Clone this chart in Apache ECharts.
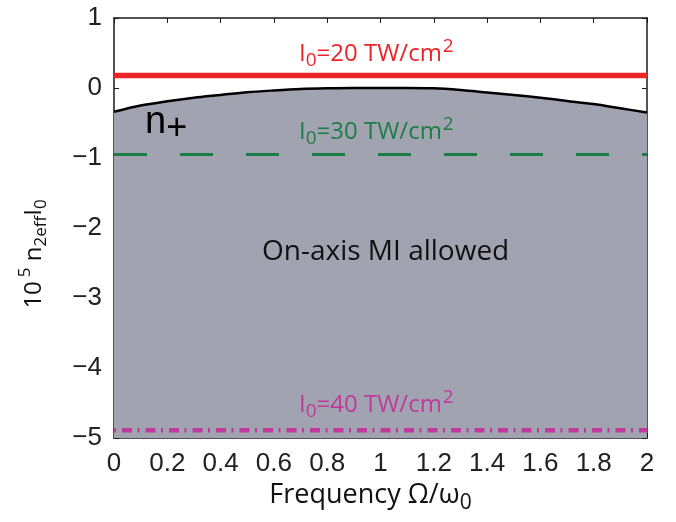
<!DOCTYPE html>
<html>
<head>
<meta charset="utf-8">
<script src="https://cdn.jsdelivr.net/npm/echarts@6/dist/echarts.min.js"></script>
<style>html,body{margin:0;padding:0;background:#fff;}#c{width:676px;height:522px;}</style>
</head>
<body>
<div id="c"></div>
<script>
// ---- data ----
const freq = [0, 0.1, 0.2, 0.3, 0.4, 0.5, 0.6, 0.7, 0.8, 0.9, 1.0, 1.1, 1.2, 1.3, 1.4, 1.5, 1.6, 1.7, 1.8, 1.9, 2.0];
const nPlus = [-0.34, -0.25, -0.19, -0.14, -0.10, -0.06, -0.035, -0.015, -0.005, 0, 0, 0, -0.005, -0.03, -0.065, -0.10, -0.14, -0.185, -0.23, -0.29, -0.35];
const lineX = [0, 2];
const level20 = 0.18;
const level30 = -0.95;
const level40 = -4.89;
const xTicks = ['0', '0.2', '0.4', '0.6', '0.8', '1', '1.2', '1.4', '1.6', '1.8', '2'];
const yTicks = ['\u22125', '\u22124', '\u22123', '\u22122', '\u22121', '0', '1'];

const RED = '#ec2428', GREEN = '#1b7e45', MAG = '#bf3a9c', GRAY = '#a2a3b0';
const SANS = '"Open Sans", sans-serif';
const TICKF = '"Liberation Sans", Arial, sans-serif';

const chart = echarts.init(document.getElementById('c'));

function intensityRich(color) {
  return {
    a: {fontFamily: SANS, fontSize: 24, fill: color, verticalAlign: 'middle'},
    s: {fontFamily: SANS, fontSize: 19, fill: color, verticalAlign: 'middle', padding: [13, 0, 0, 0]},
    p: {fontFamily: SANS, fontSize: 19, fill: color, verticalAlign: 'middle', padding: [0, 0, 15, 1]}
  };
}
function intensityText(val) {
  return '{a|I}{s|0}{a|=' + val + ' TW/cm}{p|2}';
}

const xAxisCommon = {
  type: 'value', min: 0, max: 2, interval: 0.2,
  axisLine: {show: true, onZero: false, lineStyle: {color: '#1a1a1a', width: 1.5}},
  axisTick: {show: true, inside: true, length: 5, lineStyle: {color: '#1a1a1a', width: 1}},
  splitLine: {show: false}
};
const yAxisCommon = {
  type: 'value', min: -5, max: 1, interval: 1,
  axisLine: {show: true, onZero: false, lineStyle: {color: '#1a1a1a', width: 1.5}},
  axisTick: {show: true, inside: true, length: 5, lineStyle: {color: '#1a1a1a', width: 1}},
  splitLine: {show: false}
};

chart.setOption({
  animation: false,
  backgroundColor: '#fff',
  grid: {left: 114, right: 29, top: 18, bottom: 84, containLabel: false},
  xAxis: [
    Object.assign({}, xAxisCommon, {
      position: 'bottom',
      axisLabel: {
        margin: 13, fontFamily: TICKF, fontSize: 26, color: '#222',
        formatter: function (v) { return xTicks[Math.round(v / 0.2)]; }
      },
      name: '{a|Frequency \u03A9/\u03C9}{s|0}',
      nameLocation: 'middle', nameGap: 39,
      nameTextStyle: {
        padding: [0, 20, 0, 0],
        rich: {
          a: {fontFamily: SANS, fontSize: 27, color: '#111', verticalAlign: 'middle'},
          s: {fontFamily: SANS, fontSize: 21, color: '#111', verticalAlign: 'middle', padding: [15, 0, 0, 0]}
        }
      }
    }),
    Object.assign({}, xAxisCommon, {position: 'top', axisLabel: {show: false}})
  ],
  yAxis: [
    Object.assign({}, yAxisCommon, {
      position: 'left',
      axisLabel: {
        margin: 12, fontFamily: TICKF, fontSize: 26, color: '#222',
        formatter: function (v) { return yTicks[Math.round(v + 5)]; }
      }
    }),
    Object.assign({}, yAxisCommon, {position: 'right', axisLabel: {show: false}})
  ],
  series: [
    {
      type: 'line', xAxisIndex: 0, yAxisIndex: 0, symbol: 'none', smooth: 0.3,
      data: freq.map((f, i) => [f, nPlus[i]]),
      lineStyle: {color: '#000', width: 2.5},
      areaStyle: {color: GRAY, opacity: 1, origin: 'start'},
      z: 1
    },
    {
      type: 'line', symbol: 'none', data: lineX.map(x => [x, level20]),
      lineStyle: {color: RED, width: 5.5}, z: 3
    },
    {
      type: 'line', symbol: 'none', data: lineX.map(x => [x, level30]),
      lineStyle: {color: GREEN, width: 3, type: [33, 33]}, z: 3
    },
    {
      type: 'line', symbol: 'none', data: lineX.map(x => [x, level40]),
      lineStyle: {color: MAG, width: 4.5, type: [2, 6, 10, 5.5], dashOffset: 0}, z: 3
    }
  ],
  graphic: [
    {type: 'text', left: 299, top: 37, z: 10, style: {text: intensityText(20), rich: intensityRich(RED)}},
    {type: 'text', left: 299, top: 115, z: 10, style: {text: intensityText(30), rich: intensityRich(GREEN)}},
    {type: 'text', left: 299, top: 388, z: 10, style: {text: intensityText(40), rich: intensityRich(MAG)}},
    {type: 'text', left: 145, top: 104, z: 10, style: {
      text: '{n|n}{p|+}',
      rich: {
        n: {fontFamily: TICKF, fontSize: 38, fill: '#000', verticalAlign: 'middle'},
        p: {fontFamily: TICKF, fontSize: 36, fill: '#000', verticalAlign: 'middle', padding: [12, 0, 0, 0]}
      }
    }},
    {type: 'text', left: 262, top: 238, z: 10, style: {
      text: 'On-axis MI allowed', fontFamily: SANS, fontSize: 28, fill: '#111'
    }},
    {type: 'text', x: 34, y: 254, rotation: Math.PI / 2, z: 10, style: {
      text: '{a|10}{p|5}{a| n}{s|2eff}{a|I}{s|0}',
      align: 'center', verticalAlign: 'middle',
      rich: {
        a: {fontFamily: SANS, fontSize: 24, fill: '#111', verticalAlign: 'middle'},
        s: {fontFamily: SANS, fontSize: 17, fill: '#111', verticalAlign: 'middle', padding: [14, 0, 0, 0]},
        p: {fontFamily: SANS, fontSize: 17, fill: '#111', verticalAlign: 'middle', padding: [0, 0, 18, 4]}
      }
    }}
  ]
});
</script>
</body>
</html>
